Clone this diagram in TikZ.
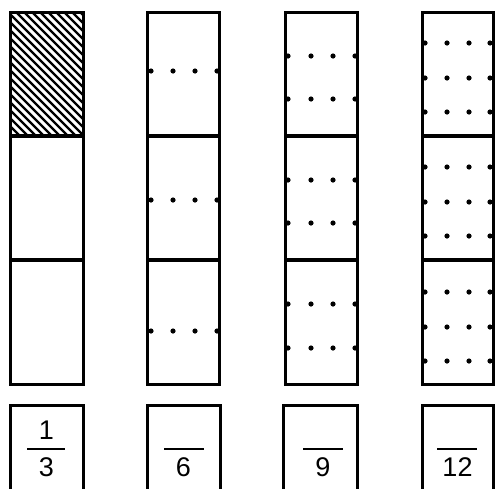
\documentclass[tikz,border=0pt]{standalone}
\usepackage{fontspec}
\setmainfont{Liberation Sans}
\begin{document}
\begin{tikzpicture}[x=1pt,y=-1pt,
  frame/.style={line width=3pt,line cap=rect},
  divider/.style={line width=3.2pt},
  hatchline/.style={line width=2.2pt},
  dotmark/.style={fill=black,draw=none},
  digit/.style={font=\fontsize{27}{27}\selectfont,inner sep=0pt},
  fracbar/.style={line width=2.2pt}]
\useasboundingbox (0,0) rectangle (495,488);
% columns
\foreach \l/\r/\n in {10/83/c1,147/219/c2,285/357/c3,422/493/c4}{
  \draw[frame] (\l,12) rectangle (\r,384);
  \draw[divider] (\l,136) -- (\r,136);
  \draw[divider] (\l,260) -- (\r,260);
}
% hatching
\begin{scope}
  \clip (10,12) rectangle (83,136);
  \foreach \s in {-140,-132,...,90}{
    \draw[hatchline] (\s,8) -- (\s+140,148);
  }
\end{scope}
\draw[frame] (10,12) rectangle (83,136);
% dots column 2
\foreach \y in {71,200,331}{
  \foreach \x in {151,173,195,217}{
    \fill[dotmark] (\x,\y) circle (2.6);
  }
}
% dots column 3
\foreach \y in {56,99,180,223,304,348}{
  \foreach \x in {288,311,333,355}{
    \fill[dotmark] (\x,\y) circle (2.6);
  }
}
% dots column 4
\foreach \y in {43,78,112,167,202,236,292,327,361}{
  \foreach \x in {425,447,469,490}{
    \fill[dotmark] (\x,\y) circle (2.6);
  }
}
% bottom boxes (open at bottom edge)
\foreach \l/\r in {10/83,147/220,283/357,422/493}{
  \draw[frame] (\l,490) -- (\l,405) -- (\r,405) -- (\r,490);
}
% fractions
\node[digit] (n1) at (46.5,430) {1};
\draw[fracbar] (27,449) -- (65,449);
\node[digit] (d1) at (46.5,467) {3};
\draw[fracbar] (164,449) -- (204,449);
\node[digit] (d2) at (183.5,467) {6};
\draw[fracbar] (303,449) -- (343,449);
\node[digit] (d3) at (323,467) {9};
\draw[fracbar] (437,449) -- (477,449);
\node[digit] (d4) at (457.5,467) {12};
\end{tikzpicture}
\end{document}
